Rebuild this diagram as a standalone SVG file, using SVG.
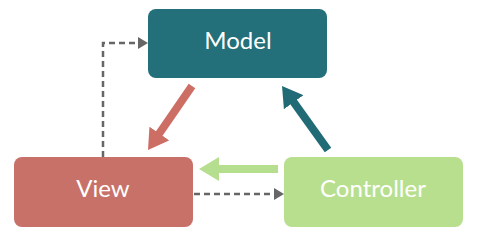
<svg xmlns="http://www.w3.org/2000/svg" width="481" height="243" viewBox="0 0 481 243">
<style>
.lbl{font-family:Lato,"Open Sans","Liberation Sans",sans-serif;font-size:24px;fill:#fff;text-anchor:middle}
.dash{fill:none;stroke:#666;stroke-width:2.5;stroke-dasharray:6 4}
</style>
<defs>
<marker id="ga" markerUnits="userSpaceOnUse" markerWidth="10" markerHeight="12" refX="2" refY="6" orient="auto"><path d="M0,0 L10,6 L0,12 z" fill="#666"/></marker>
<marker id="ra" markerUnits="userSpaceOnUse" markerWidth="20" markerHeight="24" refX="8" refY="12" orient="auto"><path d="M0,0 L20,12 L0,24 z" fill="#CD6E64"/></marker>
<marker id="ta" markerUnits="userSpaceOnUse" markerWidth="20" markerHeight="24" refX="8" refY="12" orient="auto"><path d="M0,0 L20,12 L0,24 z" fill="#216B76"/></marker>
<marker id="la" markerUnits="userSpaceOnUse" markerWidth="20" markerHeight="24" refX="8" refY="12" orient="auto"><path d="M0,0 L20,12 L0,24 z" fill="#B5DE8F"/></marker>
</defs>
<rect width="481" height="243" fill="#fff"/>
<g id="connectors">
<path class="dash" d="M103,157 V43 H140" marker-end="url(#ga)"/>
<path class="dash" d="M194,194 H276" marker-end="url(#ga)"/>
<line x1="192" y1="86" x2="154.8" y2="140.1" stroke="#CD6E64" stroke-width="8" marker-end="url(#ra)"/>
<line x1="328" y1="150" x2="289" y2="95.7" stroke="#216B76" stroke-width="8" marker-end="url(#ta)"/>
<line x1="278" y1="169" x2="211" y2="169" stroke="#B5DE8F" stroke-width="8" marker-end="url(#la)"/>
</g>
<g id="model">
<rect x="148" y="9" width="179" height="69" rx="8" fill="#236F7A"/>
<text class="lbl" x="238" y="49">Model</text>
</g>
<g id="view">
<rect x="14" y="157" width="179" height="70" rx="8" fill="#C87168"/>
<text class="lbl" x="103" y="197">View</text>
</g>
<g id="controller">
<rect x="284" y="157" width="179" height="70" rx="8" fill="#B8DF8E"/>
<text class="lbl" x="373" y="197">Controller</text>
</g>
</svg>
